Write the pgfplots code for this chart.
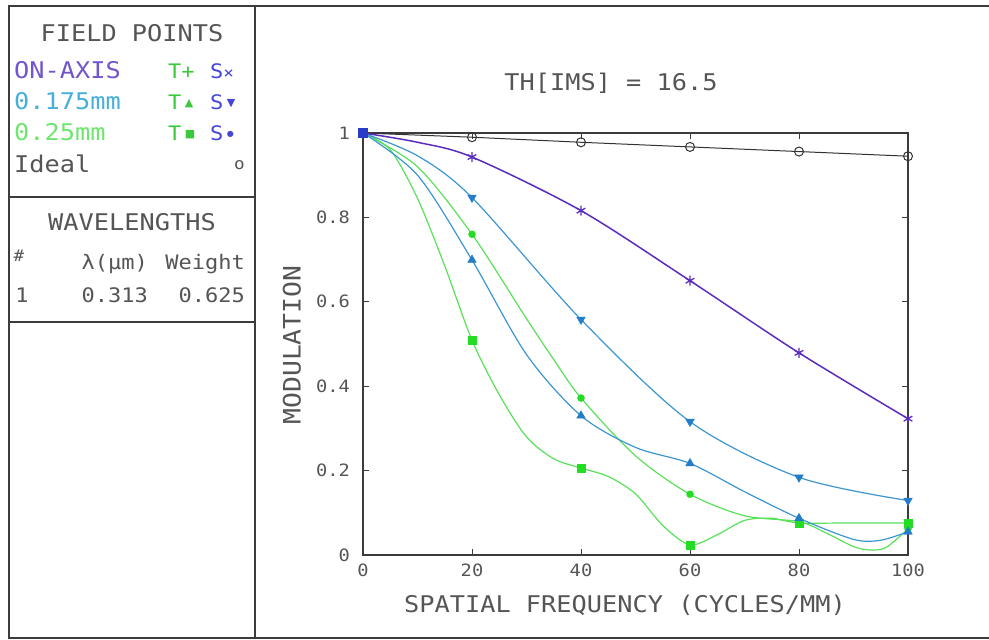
\documentclass[border=0pt]{standalone}
\usepackage{fontspec}
\usepackage{pgfplots}
\pgfplotsset{compat=1.18}
\newfontfamily\zf[FakeStretch=1.1]{DejaVu Sans Mono}
\newfontfamily\symf{DejaVu Sans}
\definecolor{txt}{RGB}{85,85,85}
\definecolor{frm}{RGB}{60,60,60}
\definecolor{purp}{RGB}{90,45,190}
\definecolor{purptxt}{RGB}{115,85,205}
\definecolor{blu}{RGB}{60,150,210}
\definecolor{blumk}{RGB}{35,125,200}
\definecolor{blutxt}{RGB}{70,175,220}
\definecolor{grn}{RGB}{90,225,90}
\definecolor{grnmk}{RGB}{35,220,35}
\definecolor{grntxt}{RGB}{110,230,110}
\definecolor{Sblue}{RGB}{70,70,215}
\definecolor{Tgreen}{RGB}{60,200,60}
\definecolor{orig}{RGB}{40,60,200}
\begin{document}
\begin{tikzpicture}[x=1pt,y=1pt]
\useasboundingbox (0,0) rectangle (989,640);
\fill[white] (0,0) rectangle (989,640);
% frame
\draw[frm, line width=1.5pt] (989,2) -- (9,2) -- (9,634) -- (989,634);
\draw[frm, line width=1.2pt] (255,2) -- (255,634);
\draw[frm, line width=1.2pt] (9,443) -- (255,443);
\draw[frm, line width=1.2pt] (9,318) -- (255,318);
% field points box
\node[anchor=base, inner sep=0pt, text=txt, font=\zf\fontsize{23}{23}\selectfont] at (132,598.6) {FIELD POINTS};
\node[anchor=base west, inner sep=0pt, text=purptxt, font=\zf\fontsize{23}{23}\selectfont] at (14,561.6) {ON-AXIS};
\node[anchor=base west, inner sep=0pt, text=blutxt, font=\zf\fontsize{23}{23}\selectfont] at (14,530.6) {0.175mm};
\node[anchor=base west, inner sep=0pt, text=grntxt, font=\zf\fontsize{23}{23}\selectfont] at (14,499.6) {0.25mm};
\node[anchor=base west, inner sep=0pt, text=txt, font=\zf\fontsize{23}{23}\selectfont] at (14,467.6) {Ideal};
% T / S symbols
\node[anchor=base west, inner sep=0pt, text=Tgreen, font=\zf\fontsize{20}{20}\selectfont] at (168,561.6) {T+};
\node[anchor=base west, inner sep=0pt, text=Sblue, font=\zf\fontsize{20}{20}\selectfont] at (210,561.6) {S{\fontsize{16}{16}\selectfont×}};
\node[anchor=base west, inner sep=0pt, text=Tgreen, font=\zf\fontsize{20}{20}\selectfont] at (168,530.6) {T\,\raisebox{3pt}{\symf\fontsize{11}{11}\selectfont ▲}};
\node[anchor=base west, inner sep=0pt, text=Sblue, font=\zf\fontsize{20}{20}\selectfont] at (210,530.6) {S\,\raisebox{3pt}{\symf\fontsize{11}{11}\selectfont ▼}};
\node[anchor=base west, inner sep=0pt, text=Tgreen, font=\zf\fontsize{20}{20}\selectfont] at (168,499.6) {T\,\raisebox{3pt}{\symf\fontsize{11}{11}\selectfont ■}};
\node[anchor=base west, inner sep=0pt, text=Sblue, font=\zf\fontsize{20}{20}\selectfont] at (210,499.6) {S\,\raisebox{4pt}{\symf\fontsize{8}{8}\selectfont ●}};
\node[anchor=base east, inner sep=0pt, text=txt, font=\zf\fontsize{16}{16}\selectfont] at (245,470) {o};
% wavelengths box
\node[anchor=base, inner sep=0pt, text=txt, font=\zf\fontsize{23}{23}\selectfont] at (132,409.6) {WAVELENGTHS};
\node[anchor=base, inner sep=0pt, text=txt, font=\zf\fontsize{16}{16}\selectfont] at (19,378) {\#};
\node[anchor=base east, inner sep=0pt, text=txt, font=\zf\fontsize{20}{20}\selectfont] at (148,370.7) {λ(μm)};
\node[anchor=base east, inner sep=0pt, text=txt, font=\zf\fontsize{20}{20}\selectfont] at (245,370.7) {Weight};
\node[anchor=base, inner sep=0pt, text=txt, font=\zf\fontsize{20}{20}\selectfont] at (22,337.7) {1};
\node[anchor=base east, inner sep=0pt, text=txt, font=\zf\fontsize{20}{20}\selectfont] at (148,337.7) {0.313};
\node[anchor=base east, inner sep=0pt, text=txt, font=\zf\fontsize{20}{20}\selectfont] at (245,337.7) {0.625};
% titles
\node[anchor=base, inner sep=0pt, text=txt, font=\zf\fontsize{23}{23}\selectfont] at (611,549.6) {TH[IMS] = 16.5};
\node[anchor=base, inner sep=0pt, text=txt, font=\zf\fontsize{23}{23}\selectfont] at (625,27.6) {SPATIAL FREQUENCY (CYCLES/MM)};
\node[anchor=base, rotate=90, inner sep=0pt, text=txt, font=\zf\fontsize{24}{24}\selectfont] at (300.7,295) {MODULATION};

\begin{axis}[
  at={(363pt,85pt)}, anchor=south west, scale only axis,
  width=545pt, height=422pt,
  xmin=0, xmax=100, ymin=0, ymax=1,
  xtick={0,20,40,60,80,100}, ytick={0,0.2,0.4,0.6,0.8,1},
  xticklabels={0,20,40,60,80,100}, yticklabels={0,0.2,0.4,0.6,0.8,1},
  tick align=inside, major tick length=6pt,
  axis line style={frm, line width=1.3pt},
  tick style={frm, line width=1pt},
  ticklabel style={font=\zf\fontsize{17}{17}\selectfont, text=txt, inner sep=0pt},
  xticklabel style={anchor=north, yshift=-9pt},
  yticklabel style={anchor=east, xshift=-13pt},
  clip=false,
]
% Ideal
\addplot[black!80, line width=1pt, mark=o, mark size=4.5pt, mark options={solid, line width=1pt}]
  coordinates {(0,1)(20,0.990)(40,0.978)(60,0.967)(80,0.956)(100,0.945)};
% 0.25 mm T (squares)
\addplot[grn, line width=1.2pt, smooth, tension=0.5]
  coordinates {(0,1)(5,0.96)(10,0.845)(15,0.685)(20,0.509)(25,0.38)(30,0.28)(35,0.228)(40,0.206)(45,0.186)(50,0.145)(55,0.07)(60,0.024)(65,0.048)(70,0.082)(75,0.087)(80,0.076)(90,0.076)(100,0.076)};
\addplot[only marks, grnmk, mark=square*, mark size=4pt]
  coordinates {(20,0.509)(40,0.206)(60,0.024)(80,0.075)(100,0.075)};
% 0.25 mm S (dots)
\addplot[grn, line width=1.2pt, smooth, tension=0.5]
  coordinates {(0,1)(10,0.92)(20,0.760)(30,0.56)(35,0.463)(40,0.372)(50,0.235)(60,0.144)(70,0.093)(80,0.079)(85,0.052)(90,0.020)(93,0.012)(96,0.018)(100,0.062)};
\addplot[only marks, grnmk, mark=*, mark size=3.5pt]
  coordinates {(20,0.760)(40,0.372)(60,0.144)(80,0.079)(100,0.062)};
% 0.175 mm T (up triangles)
\addplot[blu, line width=1.2pt, smooth, tension=0.5]
  coordinates {(0,1)(10,0.90)(20,0.699)(30,0.475)(40,0.33)(50,0.255)(60,0.217)(70,0.150)(80,0.087)(90,0.037)(95,0.035)(100,0.055)};
\addplot[only marks, blumk, mark=triangle*, mark size=5pt]
  coordinates {(20,0.699)(40,0.33)(60,0.217)(80,0.087)(100,0.055)};
% 0.175 mm S (down triangles)
\addplot[blu, line width=1.2pt, smooth, tension=0.5]
  coordinates {(0,1)(10,0.946)(20,0.847)(40,0.558)(60,0.316)(80,0.184)(100,0.129)};
\addplot[only marks, blumk, mark=triangle*, mark size=5pt, mark options={rotate=180}]
  coordinates {(20,0.847)(40,0.558)(60,0.316)(80,0.184)(100,0.129)};
% On-axis
\addplot[purp, line width=1.5pt, smooth, tension=0.5]
  coordinates {(0,1)(10,0.978)(20,0.943)(40,0.816)(60,0.650)(80,0.479)(100,0.323)};
\addplot[only marks, purp, mark=asterisk, mark size=5pt, mark options={line width=1.3pt}]
  coordinates {(20,0.943)(40,0.816)(60,0.650)(80,0.479)(100,0.323)};
% origin marker
\addplot[only marks, orig, mark=square*, mark size=4.5pt]
  coordinates {(0,1)};
\end{axis}
\end{tikzpicture}
\end{document}
